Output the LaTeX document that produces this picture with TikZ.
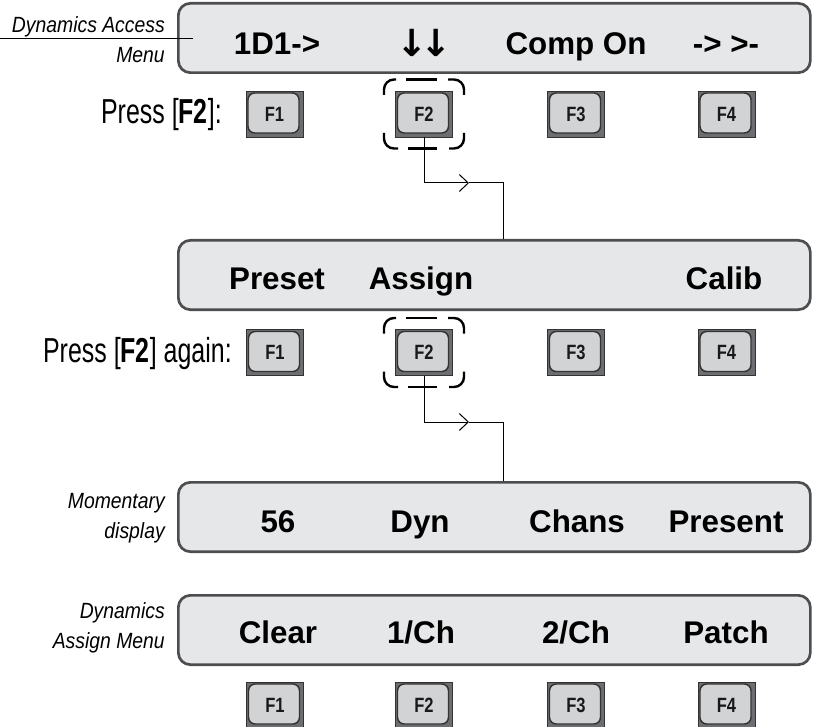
\documentclass[tikz,border=0pt]{standalone}
\usepackage{fontspec}
\setmainfont{Liberation Sans}
\newfontfamily\condfont[FakeStretch=0.72]{Liberation Sans}
\newfontfamily\notefont[FakeStretch=0.88]{Liberation Sans}
\newfontfamily\keyfont[FakeStretch=0.8]{Liberation Sans}
\newfontfamily\arrowfont{DejaVu Sans}
\usetikzlibrary{arrows.meta}
\definecolor{displight}{HTML}{E6E7E8}
\definecolor{dispedge}{HTML}{4D4D4F}
\definecolor{keydark}{HTML}{6D6E71}
\definecolor{keylight}{HTML}{D1D3D4}
\newcommand{\selbox}[1]{%
  \begin{scope}[shift={(#1.center)}]
    \draw[sel] (-40,-19) |- (-28,-34.5);
    \draw[sel] (-18,-34.5) -- (13,-34.5);
    \draw[sel] (24,-34.5) -| (40,-19);
    \draw[sel] (40,19) |- (25,34.5);
    \draw[sel] (13,34.5) -- (-16,34.5);
    \draw[sel] (-26,34.5) -| (-40,19);
  \end{scope}}

\begin{document}
\begin{tikzpicture}[x=0.75pt, y=-0.75pt,
        disp/.style={draw=dispedge, fill=displight, line width=2pt, rounded corners=9pt, minimum width=474pt, minimum height=52pt, anchor=north west},
        lcd/.style={font=\bfseries\fontsize{23.5}{26}\selectfont, anchor=base, inner sep=0pt},
        fkey/.style={draw=black!80, line width=0.5pt, fill=keydark, minimum width=42.75pt, minimum height=34.5pt, inner sep=0pt, text=black!90,
            font=\keyfont\bfseries\fontsize{15.5}{17}\selectfont,
            path picture={\draw[fill=keylight, line width=1.1pt, rounded corners=5pt]
                ([shift={(1.5pt,-1.5pt)}]path picture bounding box.north west) rectangle
                ([shift={(-3pt,3pt)}]path picture bounding box.south east);}},
        press/.style={font=\condfont\fontsize{26}{30}\selectfont, anchor=base east, inner sep=0pt},
        note/.style={font=\notefont\itshape\fontsize{16.5}{22.5}\selectfont, align=right, anchor=base east, inner sep=0pt},
        sel/.style={line width=1.8pt, rounded corners=7.5pt},
        link/.style={line width=0.75pt},
        tip/.style={-{Straight Barb[length=6.75pt, width=12.75pt, line width=0.75pt]}}
    ]
    \useasboundingbox (0,0) rectangle (813,727);

    \node[disp] (menu1) at (177,2) {};
    \node[disp] (menu2) at (177,239) {};
    \node[disp] (menu3) at (177,481) {};
    \node[disp] (menu4) at (177,594) {};

    \coordinate (lead) at (0,39);
    \draw[link] (lead) -- ([xshift=12pt]menu1.west |- lead);
    \node[note] (note1) at (165,63) {Dynamics Access\\Menu};
    \node[note] (note3) at (165,538) {Momentary\\display};
    \node[note] (note4) at (165,648) {Dynamics\\Assign Menu};

    \node[lcd] (t11) at (277,55) {1D1->};
    \node[lcd, font=\arrowfont\bfseries\fontsize{28}{30}\selectfont] (t12) at (424,57) {↓\kern-6pt↓};
    \node[lcd] (t13) at (576,55) {Comp On};
    \node[lcd] (t14) at (726,55) {-> >-};

    \node[lcd] (t21) at (277,289) {Preset};
    \node[lcd] (t22) at (421,289) {Assign};
    \node[lcd] (t24) at (724,289) {Calib};

    \node[lcd] (t31) at (278,532) {56};
    \node[lcd] (t32) at (420,532) {Dyn};
    \node[lcd] (t33) at (577,532) {Chans};
    \node[lcd] (t34) at (726,532) {Present};

    \node[lcd] (t41) at (278,643) {Clear};
    \node[lcd] (t42) at (421,643) {1/Ch};
    \node[lcd] (t43) at (576,643) {2/Ch};
    \node[lcd] (t44) at (726,643) {Patch};

    \node[press] (press1) at (222,124) {Press [\textbf{F2}]:};
    \node[press] (press2) at (232,362) {Press [\textbf{F2}] again:};

    \node[fkey] (key11) at (274.5,114) {F1};
    \node[fkey] (key12) at (424,114) {F2};
    \node[fkey] (key13) at (576,114) {F3};
    \node[fkey] (key14) at (726.5,114) {F4};

    \node[fkey] (key21) at (275,352.5) {F1};
    \node[fkey] (key22) at (424,352.5) {F2};
    \node[fkey] (key23) at (576,352.5) {F3};
    \node[fkey] (key24) at (726.5,352.5) {F4};

    \node[fkey] (key31) at (275,705) {F1};
    \node[fkey] (key32) at (424,705) {F2};
    \node[fkey] (key33) at (576,705) {F3};
    \node[fkey] (key34) at (726.5,705) {F4};

    \selbox{key12}
    \selbox{key22}

    \coordinate (chev1) at (469,183);
    \coordinate (bend1) at (503,183);
    \draw[link, tip] (key12.south) |- (chev1);
    \draw[link] (chev1) -- (bend1) -- (bend1 |- menu2.north);

    \coordinate (chev2) at (469,422);
    \coordinate (bend2) at (503,422);
    \draw[link, tip] (key22.south) |- (chev2);
    \draw[link] (chev2) -- (bend2) -- (bend2 |- menu3.north);
\end{tikzpicture}
\end{document}
